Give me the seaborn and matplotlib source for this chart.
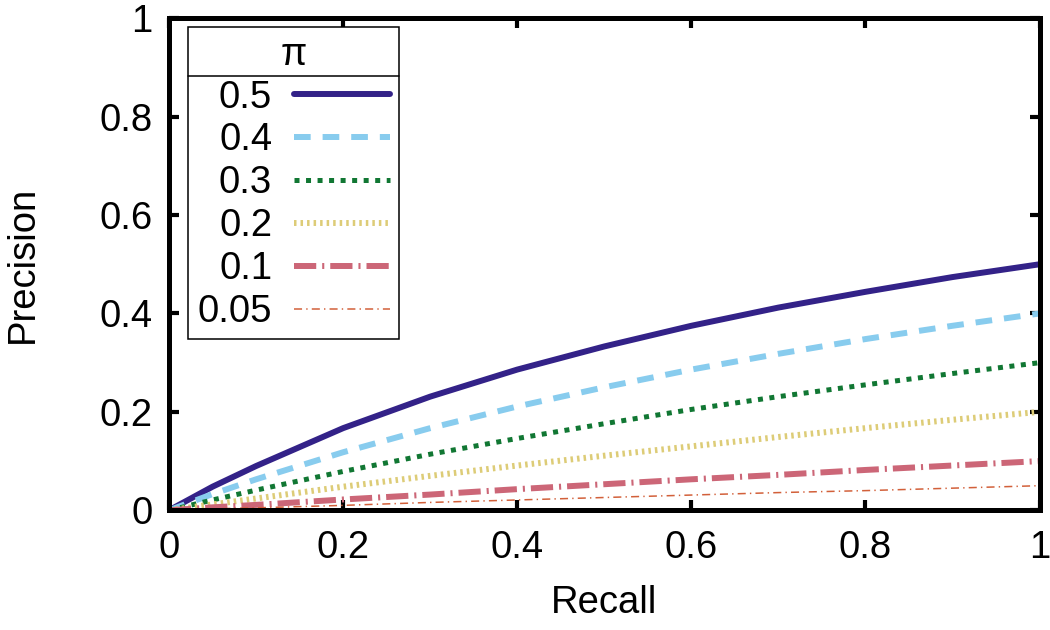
import numpy as np
import pandas as pd
import matplotlib
matplotlib.use("Agg")
import matplotlib.pyplot as plt
from matplotlib.lines import Line2D
import seaborn as sns

# --------------------------------------------------
# Dati (precision vs recall per ogni pi)
# --------------------------------------------------
recall = [0.0, 0.05, 0.1, 0.2, 0.3, 0.4, 0.5, 0.6, 0.7, 0.8, 0.9, 1.0]

prec_05  = [0.0, 0.048, 0.090, 0.167, 0.231, 0.286, 0.333, 0.375, 0.412, 0.444, 0.474, 0.5]
prec_04  = [0.0, 0.033, 0.063, 0.118, 0.167, 0.211, 0.250, 0.286, 0.318, 0.348, 0.375, 0.4]
prec_03  = [0.0, 0.021, 0.041, 0.079, 0.114, 0.146, 0.176, 0.205, 0.231, 0.255, 0.278, 0.3]
prec_02  = [0.0, 0.012, 0.024, 0.048, 0.070, 0.091, 0.111, 0.130, 0.149, 0.167, 0.184, 0.2]
prec_01  = [0.0, 0.006, 0.011, 0.022, 0.032, 0.043, 0.053, 0.063, 0.072, 0.082, 0.091, 0.1]
prec_005 = [0.0, 0.003, 0.005, 0.010, 0.016, 0.021, 0.026, 0.031, 0.036, 0.040, 0.045, 0.05]

series_labels = ["0.5", "0.4", "0.3", "0.2", "0.1", "0.05"]
series_values = [prec_05, prec_04, prec_03, prec_02, prec_01, prec_005]

tick_values = [0, 0.2, 0.4, 0.6, 0.8, 1]
tick_labels = ["0", "0.2", "0.4", "0.6", "0.8", "1"]

# stile linee (colore, spessore in pt, pattern tratteggio in pt)
colors = ["#332288", "#88CCEE", "#117733", "#DDCC77", "#CC6677", "#D2603A"]
widths = [4.3, 4.3, 3.6, 4.3, 4.3, 1.1]
styles = [
    "-",
    (0, (12, 8.6)),
    (0, (3.6, 4.7)),
    (0, (1.8, 2.9)),
    (0, (16, 4.3, 1.5, 4.3)),
    (0, (5.8, 3, 1, 3)),
]

FS = 27.5

# --------------------------------------------------
# Plot
# --------------------------------------------------
sns.set_theme(style="white")
plt.rcParams["font.family"] = ["Liberation Sans", "DejaVu Sans"]
plt.rcParams["lines.scale_dashes"] = False
plt.rcParams["text.color"] = "black"
plt.rcParams["axes.labelcolor"] = "black"

fig = plt.figure(figsize=(10.5, 6.3), dpi=100)
ax = fig.add_axes([0.161, 0.190, 0.829, 0.781])

for lab, vals, c, w, ls in zip(series_labels, series_values, colors, widths, styles):
    df = pd.DataFrame({"Recall": recall, "Precision": vals})
    sns.lineplot(data=df, x="Recall", y="Precision", ax=ax, color=c,
                 linewidth=w, linestyle=ls, label=lab)

ax.set_xlim(0, 1)
ax.set_ylim(0, 1)
ax.set_xticks(tick_values)
ax.set_xticklabels(tick_labels)
ax.set_yticks(tick_values)
ax.set_yticklabels(tick_labels)
ax.tick_params(direction="in", top=True, right=True, bottom=True, left=True,
               length=7, width=3, labelsize=FS, colors="black")
ax.tick_params(axis="x", pad=14)
ax.tick_params(axis="y", pad=12)
for sp in ax.spines.values():
    sp.set_linewidth(3.6)
    sp.set_color("black")

ax.set_xlabel("Recall", fontsize=FS, labelpad=14)
ax.set_ylabel("Precision", fontsize=FS, labelpad=42)

leg = ax.legend(title="π", loc="upper left", bbox_to_anchor=(0.022, 0.982),
                borderaxespad=0, fontsize=FS, title_fontsize=FS,
                markerfirst=False, handlelength=2.5, handletextpad=0.58,
                labelspacing=0.18, borderpad=0.25, fancybox=False,
                framealpha=1, edgecolor="black")
leg.get_frame().set_linewidth(1.1)
for t in leg.get_texts():
    t.set_color("black")

# linea orizzontale sotto il titolo della legenda
fig.canvas.draw()
W, H = fig.get_size_inches() * fig.dpi
fb = leg.get_frame().get_window_extent()
tb = leg.get_title().get_window_extent()
t0 = leg.get_texts()[0].get_window_extent()
y_line = (tb.y0 + t0.y1) / 2
fig.add_artist(Line2D([fb.x0 / W, fb.x1 / W], [y_line / H, y_line / H],
                      transform=fig.transFigure, color="black", linewidth=1.1))

plt.savefig("out.png", dpi=100)
